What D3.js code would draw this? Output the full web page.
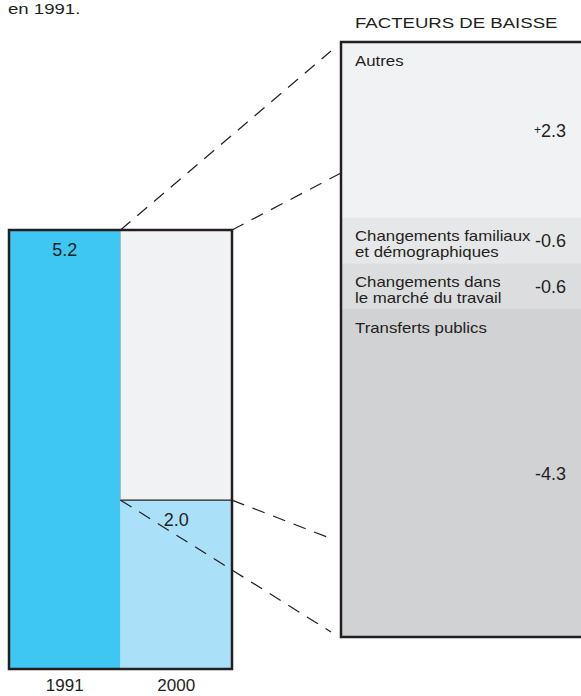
<!DOCTYPE html>
<html>
<head>
<meta charset="utf-8">
<script src="https://cdn.jsdelivr.net/npm/d3@7"></script>
<style>
  body { margin: 0; background: #fff; }
  text { font-family: 'Liberation Sans', Arial, sans-serif; fill: #231f20; }
</style>
</head>
<body>
<svg width="581" height="696"></svg>
<script>
// taux de faible revenu, 1991 et 2000
var years = ['1991', '2000']
var rates = [5.2, 2.0]

// facteurs de baisse
var factors = ['Autres', 'Changements familiaux\net démographiques', 'Changements dans\nle marché du travail', 'Transferts publics']
var factorValues = [2.3, -0.6, -0.6, -4.3]
var factorLabels = ['+2.3', '-0.6', '-0.6', '-4.3']

var svg = d3.select('svg')
var ink = '#231f20'
var wide = ' scale(1.2,1)' // labels in the reference are set wide

// left bars
var x = d3.scaleBand().domain(years).range([9, 232])
var y = d3.scaleLinear().domain([0, 5.2]).range([669, 230])

// background of the 2000 column (up to the 1991 level)
svg.append('rect')
  .attr('x', x('2000')).attr('y', y(rates[0]))
  .attr('width', x.bandwidth()).attr('height', y(0) - y(rates[0]))
  .attr('fill', '#f1f2f4')

var barColor = d3.scaleOrdinal().domain(years).range(['#3fc7f3', '#abe0f9'])

svg.selectAll('.bar')
  .data(years)
  .enter().append('rect')
  .attr('class', 'bar')
  .attr('x', function (d) { return x(d) })
  .attr('y', function (d, i) { return y(rates[i]) })
  .attr('width', x.bandwidth())
  .attr('height', function (d, i) { return y(0) - y(rates[i]) })
  .attr('fill', function (d) { return barColor(d) })

// thin divider between the columns
svg.append('line')
  .attr('x1', x('2000')).attr('x2', x('2000'))
  .attr('y1', y(rates[0])).attr('y2', y(rates[1]))
  .attr('stroke', '#b5b6b8').attr('stroke-width', 1)

// line at 2000 level
svg.append('line')
  .attr('x1', x('2000')).attr('x2', x('2000') + x.bandwidth())
  .attr('y1', y(rates[1])).attr('y2', y(rates[1]))
  .attr('stroke', ink).attr('stroke-width', 1.2)

// outer frame
svg.append('rect')
  .attr('x', x('1991')).attr('y', y(rates[0]))
  .attr('width', x('2000') + x.bandwidth() - x('1991'))
  .attr('height', y(0) - y(rates[0]))
  .attr('fill', 'none').attr('stroke', ink).attr('stroke-width', 2.5)

svg.selectAll('.val')
  .data(years)
  .enter().append('text')
  .attr('class', 'val')
  .attr('x', function (d) { return x(d) + x.bandwidth() / 2 })
  .attr('y', function (d, i) { return y(rates[i]) + 26 })
  .attr('text-anchor', 'middle')
  .style('font-size', '18px')
  .text(function (d, i) { return rates[i].toFixed(1) })

svg.selectAll('.year')
  .data(years)
  .enter().append('text')
  .attr('class', 'year')
  .attr('x', function (d) { return x(d) + x.bandwidth() / 2 })
  .attr('y', 691)
  .attr('text-anchor', 'middle')
  .style('font-size', '17px')
  .text(function (d) { return d })

// right stacked box
var boxX = 341
var total = d3.sum(factorValues, function (v) { return Math.abs(v) })
var s = d3.scaleLinear().domain([0, total]).range([42, 637])
var cum = 0
var segs = factorValues.map(function (v, i) {
  var seg = { name: factors[i], label: factorLabels[i], y0: cum, y1: cum + Math.abs(v) }
  cum += Math.abs(v)
  return seg
})
var segColor = d3.scaleOrdinal().domain(factors).range(['#f1f2f4', '#e6e7e9', '#dcdddf', '#d1d2d4'])

var seg = svg.selectAll('.seg')
  .data(segs)
  .enter().append('g')
  .attr('class', 'seg')

seg.append('rect')
  .attr('x', boxX).attr('y', function (d) { return s(d.y0) })
  .attr('width', 260).attr('height', function (d) { return s(d.y1) - s(d.y0) })
  .attr('fill', function (d) { return segColor(d.name) })

seg.append('text')
  .attr('transform', function (d) { return 'translate(' + (boxX + 14) + ',' + (s(d.y0) + 24) + ')' + wide })
  .style('font-size', '14px')
  .selectAll('tspan')
  .data(function (d) { return d.name.split('\n') })
  .enter().append('tspan')
  .attr('x', 0)
  .attr('dy', function (d, i) { return i ? 16 : 0 })
  .text(function (d) { return d })

seg.append('text')
  .attr('x', 566)
  .attr('y', function (d) { return (s(d.y0) + s(d.y1)) / 2 + 7 })
  .attr('text-anchor', 'end')
  .style('font-size', '18px')
  .each(function (d) {
    var t = d3.select(this)
    if (d.label[0] === '+') {
      t.append('tspan').style('font-size', '12px').attr('dy', -3).text('+')
      t.append('tspan').attr('dy', 3).text(d.label.slice(1))
    } else {
      t.text(d.label)
    }
  })

svg.append('path')
  .attr('d', 'M' + (boxX + 300) + ',' + s(0) + 'H' + boxX + 'V' + s(total) + 'H' + (boxX + 300))
  .attr('fill', 'none').attr('stroke', ink).attr('stroke-width', 2.5)

svg.append('text')
  .attr('transform', 'translate(355,28)' + wide)
  .style('font-size', '15.5px')
  .text('FACTEURS DE BAISSE')

svg.append('text')
  .attr('transform', 'translate(8,14)' + wide)
  .style('font-size', '15.5px')
  .text('en 1991.')

// dashed connectors
var x2000 = x('2000')
var xRight = x('2000') + x.bandwidth()
var connectors = [
  [x2000, y(rates[0]), 331, 51],
  [xRight, y(rates[0]), boxX, 173],
  [xRight, y(rates[1]), 327, 537],
  [x2000, y(rates[1]), 331, 632]
]
svg.selectAll('.conn')
  .data(connectors)
  .enter().append('line')
  .attr('class', 'conn')
  .attr('x1', function (d) { return d[0] }).attr('y1', function (d) { return d[1] })
  .attr('x2', function (d) { return d[2] }).attr('y2', function (d) { return d[3] })
  .attr('stroke', ink).attr('stroke-width', 1.2)
  .attr('stroke-dasharray', '13,9')
</script>
</body>
</html>
